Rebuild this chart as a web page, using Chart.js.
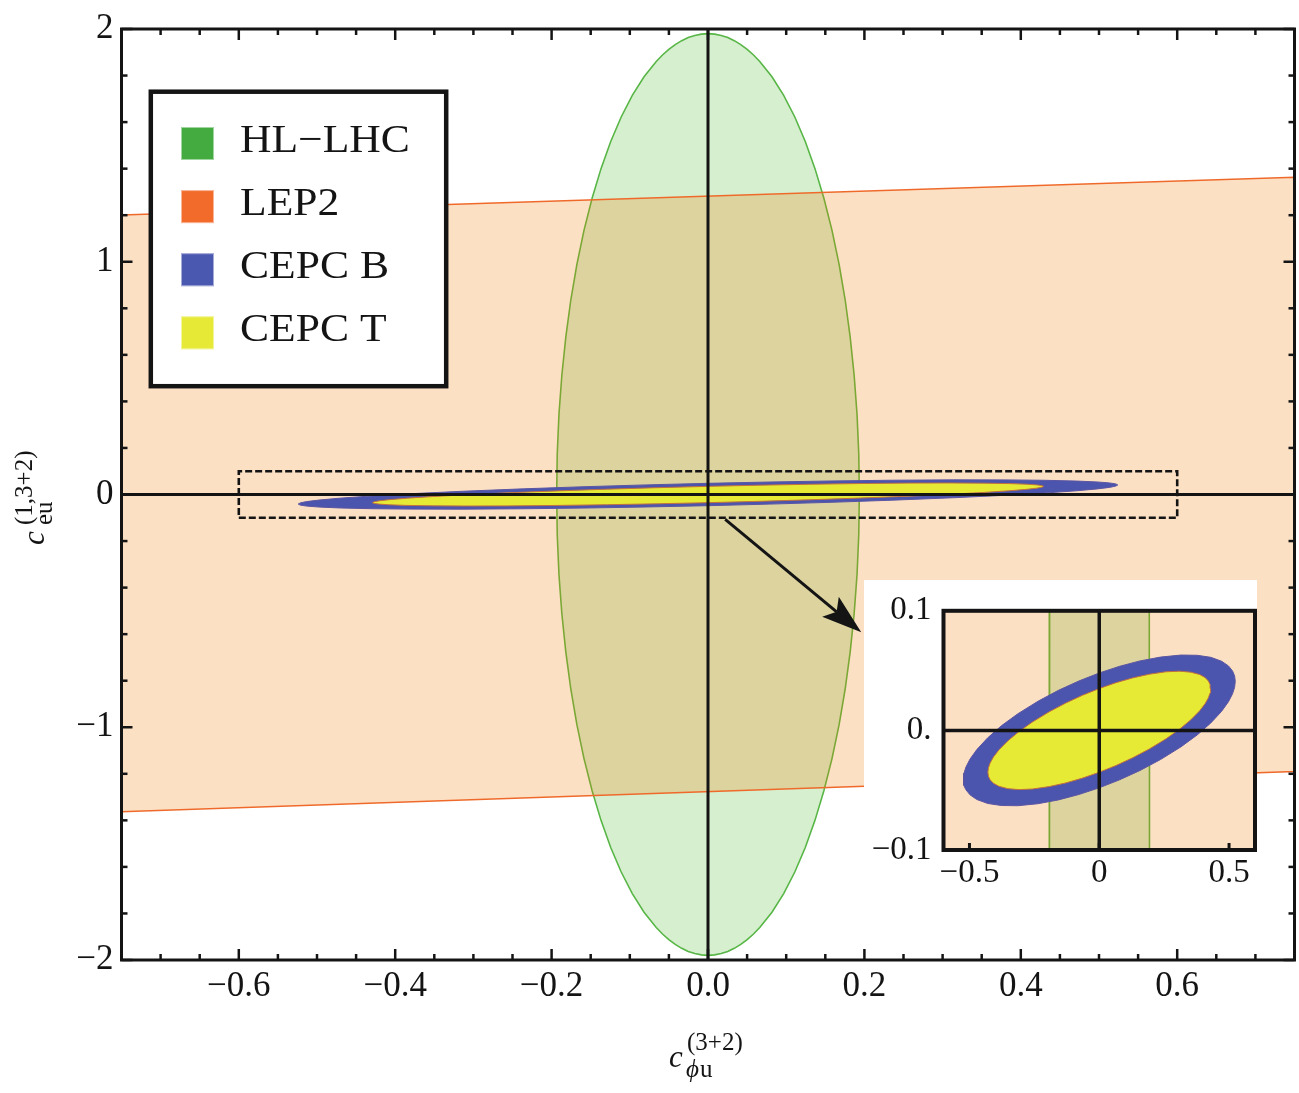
<!DOCTYPE html>
<html>
<head>
<meta charset="utf-8">
<script src="https://cdn.jsdelivr.net/npm/chart.js@4.4.1/dist/chart.umd.min.js"></script>
<style>
  html, body { margin: 0; padding: 0; background: #fff; }
  #wrap { position: relative; width: 1299px; height: 1093px; }
  #main { position: absolute; left: 0; top: 0; }
  #inset { position: absolute; left: 862px; top: 579px; }
</style>
</head>
<body>
<div id="wrap">
  <canvas id="main" width="1299" height="1093"></canvas>
  <canvas id="inset" width="395" height="311"></canvas>
</div>
<script>
// legend entries
const seriesNames = ["HL\u2212LHC", "LEP2", "CEPC B", "CEPC T"];
const seriesColors = ["#43ab3f", "#f26b2b", "#4b58b0", "#e6ea36"];

// HL-LHC contour
const hllhcX = [0.1935, 0.1928, 0.1906, 0.1869, 0.1818, 0.1754, 0.1676, 0.1585, 0.1482, 0.1368, 0.1244, 0.1110,
  0.0968, 0.0818, 0.0662, 0.0582, 0.0501, 0.0419, 0.0336, 0.0253, 0.0169, 0.0084, 0,
  -0.0084, -0.0169, -0.0253, -0.0336, -0.0419, -0.0501, -0.0582, -0.0662, -0.0818, -0.0968,
  -0.1110, -0.1244, -0.1368, -0.1482, -0.1585, -0.1676, -0.1754, -0.1818, -0.1869, -0.1906, -0.1928, -0.1935,
  -0.1928, -0.1906, -0.1869, -0.1818, -0.1754, -0.1676, -0.1585, -0.1482, -0.1368, -0.1244, -0.1110,
  -0.0968, -0.0818, -0.0662, -0.0582, -0.0501, -0.0419, -0.0336, -0.0253, -0.0169, -0.0084, 0,
  0.0084, 0.0169, 0.0253, 0.0336, 0.0419, 0.0501, 0.0582, 0.0662, 0.0818, 0.0968,
  0.1110, 0.1244, 0.1368, 0.1482, 0.1585, 0.1676, 0.1754, 0.1818, 0.1869, 0.1906, 0.1928, 0.1935];
const hllhcY = [0, 0.1726, 0.3438, 0.5124, 0.6772, 0.8367, 0.99, 1.1357, 1.2727, 1.4001, 1.5167, 1.622,
  1.7147, 1.7945, 1.8606, 1.8883, 1.9125, 1.9331, 1.9499, 1.963, 1.9725, 1.9781, 1.98,
  1.9781, 1.9725, 1.963, 1.9499, 1.9331, 1.9125, 1.8883, 1.8606, 1.7945, 1.7147,
  1.622, 1.5167, 1.4001, 1.2727, 1.1357, 0.99, 0.8367, 0.6772, 0.5124, 0.3438, 0.1726, 0,
  -0.1726, -0.3438, -0.5124, -0.6772, -0.8367, -0.99, -1.1357, -1.2727, -1.4001, -1.5167, -1.622,
  -1.7147, -1.7945, -1.8606, -1.8883, -1.9125, -1.9331, -1.9499, -1.963, -1.9725, -1.9781, -1.98,
  -1.9781, -1.9725, -1.963, -1.9499, -1.9331, -1.9125, -1.8883, -1.8606, -1.7945, -1.7147,
  -1.622, -1.5167, -1.4001, -1.2727, -1.1357, -0.99, -0.8367, -0.6772, -0.5124, -0.3438, -0.1726, 0];

// LEP2 band corners
const lep2X = [-0.75, 0.75, 0.75, -0.75, -0.75];
const lep2Y = [1.201, 1.363, -1.19, -1.363, 1.201];

// CEPC B contour
const cepcBX = [0.524, 0.5214, 0.5135, 0.4978, 0.4716, 0.4297, 0.3773, 0.3144, 0.2358, 0.1572, 0.0786, 0,
  -0.0786, -0.1572, -0.2358, -0.3144, -0.3773, -0.4297, -0.4716, -0.4978, -0.5135, -0.5214, -0.524,
  -0.5214, -0.5135, -0.4978, -0.4716, -0.4297, -0.3773, -0.3144, -0.2358, -0.1572, -0.0786, 0,
  0.0786, 0.1572, 0.2358, 0.3144, 0.3773, 0.4297, 0.4716, 0.4978, 0.5135, 0.5214, 0.524];
const cepcBY = [0.041, 0.0456, 0.0497, 0.0539, 0.0578, 0.0611, 0.0628, 0.063, 0.0613, 0.0581, 0.0536, 0.048,
  0.0413, 0.0335, 0.0244, 0.0138, 0.0038, -0.0062, -0.016, -0.024, -0.0306, -0.036, -0.041,
  -0.0456, -0.0497, -0.0539, -0.0578, -0.0611, -0.0628, -0.063, -0.0613, -0.0581, -0.0536, -0.048,
  -0.0413, -0.0335, -0.0244, -0.0138, -0.0038, 0.0062, 0.016, 0.024, 0.0306, 0.036, 0.041];

// CEPC T contour
const cepcTX = [0.429, 0.4269, 0.4204, 0.4076, 0.3861, 0.3518, 0.3089, 0.2574, 0.1931, 0.1287, 0.0644, 0,
  -0.0644, -0.1287, -0.1931, -0.2574, -0.3089, -0.3518, -0.3861, -0.4076, -0.4204, -0.4269, -0.429,
  -0.4269, -0.4204, -0.4076, -0.3861, -0.3518, -0.3089, -0.2574, -0.1931, -0.1287, -0.0644, 0,
  0.0644, 0.1287, 0.1931, 0.2574, 0.3089, 0.3518, 0.3861, 0.4076, 0.4204, 0.4269, 0.429];
const cepcTY = [0.035, 0.0383, 0.0413, 0.0442, 0.0468, 0.0487, 0.0495, 0.049, 0.047, 0.0439, 0.0399, 0.035,
  0.0294, 0.0229, 0.0155, 0.007, -0.0009, -0.0087, -0.0162, -0.0223, -0.0273, -0.0313, -0.035,
  -0.0383, -0.0413, -0.0442, -0.0468, -0.0487, -0.0495, -0.049, -0.047, -0.0439, -0.0399, -0.035,
  -0.0294, -0.0229, -0.0155, -0.007, 0.0009, 0.0087, 0.0162, 0.0223, 0.0273, 0.0313, 0.035];

// zoom window and arrow
const zoomX = [-0.6, 0.6, 0.6, -0.6, -0.6];
const zoomY = [-0.1, -0.1, 0.1, 0.1, -0.1];
const arrowX = [0.022, 0.196];
const arrowY = [-0.107, -0.592];

// ticks
const xTicks = [-0.6, -0.4, -0.2, 0, 0.2, 0.4, 0.6];
const xTickLabels = ["\u22120.6", "\u22120.4", "\u22120.2", "0.0", "0.2", "0.4", "0.6"];
const xMinor = [-0.7, -0.65, -0.55, -0.5, -0.45, -0.35, -0.3, -0.25, -0.15, -0.1, -0.05,
  0.05, 0.1, 0.15, 0.25, 0.3, 0.35, 0.45, 0.5, 0.55, 0.65, 0.7];
const yTicks = [-2, -1, 0, 1, 2];
const yTickLabels = ["\u22122", "\u22121", "0", "1", "2"];
const yMinor = [-1.8, -1.6, -1.4, -1.2, -0.8, -0.6, -0.4, -0.2, 0.2, 0.4, 0.6, 0.8, 1.2, 1.4, 1.6, 1.8];
const insetXTicks = [-0.5, 0, 0.5];
const insetXTickLabels = ["\u22120.5", "0", "0.5"];
const insetYTicks = [-0.1, 0, 0.1];
const insetYTickLabels = ["\u22120.1", "0.", "0.1"];

const SERIF = '"Liberation Serif", "Times New Roman", serif';
const INK = "#141414";

function pts(xs, ys) {
  return xs.map((x, i) => ({ x: x, y: ys[i] }));
}

function contours() {
  return [
    { label: seriesNames[0], data: pts(hllhcX, hllhcY), order: 5,
      backgroundColor: "#d6efcf", borderColor: "#58b646", borderWidth: 1.6 },
    { label: seriesNames[1], data: pts(lep2X, lep2Y), order: 4,
      backgroundColor: "rgba(242,120,0,0.23)", borderColor: "#ef6a2a", borderWidth: 1.5 },
    { label: seriesNames[2], data: pts(cepcBX, cepcBY), order: 3,
      backgroundColor: "#4b55ad", borderColor: "#5b55a3", borderWidth: 1 },
    { label: seriesNames[3], data: pts(cepcTX, cepcTY), order: 2,
      backgroundColor: "#e6ea35", borderColor: "#c2703e", borderWidth: 1 }
  ].map(d => Object.assign(d, { showLine: true, fill: "shape", pointRadius: 0, tension: 0 }));
}

function seg(ctx, x1, y1, x2, y2) {
  ctx.beginPath();
  ctx.moveTo(x1, y1);
  ctx.lineTo(x2, y2);
  ctx.stroke();
}

function scaleOpts(min, max, values, labels, size, pad, fit) {
  return {
    type: "linear", min: min, max: max,
    grid: { display: false, drawTicks: false }, border: { display: false },
    afterBuildTicks: s => { s.ticks = values.map(v => ({ value: v })); },
    afterFit: fit,
    ticks: {
      autoSkip: false, maxRotation: 0, padding: pad, color: INK,
      font: { family: SERIF, size: size },
      callback: (v, i) => labels[i]
    }
  };
}

// text stretched a little sideways, like the reference lettering
function wideText(ctx, txt, x, y, sx) {
  ctx.save();
  ctx.translate(x, y);
  ctx.scale(sx, 1);
  ctx.fillText(txt, 0, 0);
  ctx.restore();
}

// main plot decorations: zero lines, frame ticks, inset backdrop, arrow
const mainDecor = {
  id: "mainDecor",
  afterDatasetsDraw(chart) {
    const { ctx, chartArea: a, scales: { x, y } } = chart;
    ctx.save();
    ctx.strokeStyle = INK;
    ctx.lineWidth = 3;
    const x0 = x.getPixelForValue(0), y0 = y.getPixelForValue(0);
    seg(ctx, x0, a.top, x0, a.bottom);
    seg(ctx, a.left, y0, a.right, y0);

    ctx.lineWidth = 2.5;
    const mark = (vals, len, sc, horiz) => vals.forEach(v => {
      const p = sc.getPixelForValue(v);
      if (horiz) {
        seg(ctx, p, a.bottom, p, a.bottom - len);
        seg(ctx, p, a.top, p, a.top + len);
      } else {
        seg(ctx, a.left, p, a.left + len, p);
        seg(ctx, a.right, p, a.right - len, p);
      }
    });
    mark(xTicks, 11, x, true);
    mark(xMinor, 6, x, true);
    mark(yTicks, 11, y, false);
    mark(yMinor, 6, y, false);

    ctx.lineWidth = 3;
    ctx.strokeRect(a.left, a.top, a.right - a.left, a.bottom - a.top);

    // white backdrop behind the inset
    ctx.fillStyle = "#fff";
    ctx.fillRect(864, 580, 393, 309);

    // arrow
    const ax1 = x.getPixelForValue(arrowX[0]), ay1 = y.getPixelForValue(arrowY[0]);
    const ax2 = x.getPixelForValue(arrowX[1]), ay2 = y.getPixelForValue(arrowY[1]);
    const ang = Math.atan2(ay2 - ay1, ax2 - ax1);
    const hl = 40, hw = 13;
    const c = Math.cos(ang), s = Math.sin(ang);
    ctx.lineWidth = 3;
    seg(ctx, ax1, ay1, ax2 - c * hl * 0.8, ay2 - s * hl * 0.8);
    ctx.fillStyle = INK;
    ctx.beginPath();
    ctx.moveTo(ax2, ay2);
    ctx.lineTo(ax2 - c * hl + s * hw, ay2 - s * hl - c * hw);
    ctx.lineTo(ax2 - c * hl * 0.8, ay2 - s * hl * 0.8);
    ctx.lineTo(ax2 - c * hl - s * hw, ay2 - s * hl + c * hw);
    ctx.closePath();
    ctx.fill();
    ctx.restore();
  },
  afterDraw(chart) {
    const ctx = chart.ctx;
    ctx.save();
    // legend
    ctx.fillStyle = "#fff";
    ctx.fillRect(150.8, 91.7, 295.4, 294.5);
    ctx.strokeStyle = INK;
    ctx.lineWidth = 4.5;
    ctx.strokeRect(150.8, 91.7, 295.4, 294.5);
    seriesNames.forEach((name, i) => {
      const top = 127 + i * 63.1;
      ctx.fillStyle = seriesColors[i];
      ctx.fillRect(181, top, 33, 33);
      ctx.strokeStyle = "rgba(255,255,255,0.5)";
      ctx.lineWidth = 1;
      ctx.strokeRect(181.5, top + 0.5, 32, 32);
      ctx.fillStyle = INK;
      ctx.font = "40px " + SERIF;
      ctx.textAlign = "left";
      ctx.textBaseline = "alphabetic";
      wideText(ctx, name, 240, 152 + i * 63.1, 1.09);
    });

    // x axis title
    ctx.fillStyle = INK;
    ctx.font = "italic 31px " + SERIF;
    ctx.fillText("c", 669, 1067);
    ctx.font = "25px " + SERIF;
    ctx.fillText("(3+2)", 687, 1050);
    ctx.font = "italic 25px " + SERIF;
    ctx.fillText("\u03d5", 686, 1077);
    const pw = ctx.measureText("\u03d5").width;
    ctx.font = "25px " + SERIF;
    ctx.fillText("u", 686 + pw + 1, 1077);

    // y axis title
    ctx.translate(43.5, 545);
    ctx.rotate(-Math.PI / 2);
    ctx.font = "italic 31px " + SERIF;
    ctx.fillText("c", 0, 0);
    ctx.font = "25px " + SERIF;
    ctx.fillText("eu", 20, 8);
    ctx.fillText("(1,3+2)", 20, -12);
    ctx.restore();
  }
};

const mainData = contours();
mainData.push({
  label: "zoom", data: pts(zoomX, zoomY), order: 1, showLine: true, fill: false,
  pointRadius: 0, borderColor: INK, borderWidth: 2.6, borderDash: [7, 3]
});

new Chart(document.getElementById("main"), {
  type: "scatter",
  data: { datasets: mainData },
  options: {
    responsive: false, animation: false, events: [], devicePixelRatio: 1,
    layout: { padding: { top: 24, right: 4.5, left: 0, bottom: 0 } },
    plugins: { legend: { display: false }, tooltip: { enabled: false } },
    scales: {
      x: scaleOpts(-0.75, 0.75, xTicks, xTickLabels, 35, 6, s => { s.height = 133; }),
      y: scaleOpts(-2, 2, yTicks, yTickLabels, 35, 8, s => { s.width = 121.5; })
    }
  },
  plugins: [mainDecor]
});

// inset decorations
const insetDecor = {
  id: "insetDecor",
  afterDatasetsDraw(chart) {
    const { ctx, chartArea: a, scales: { x, y } } = chart;
    ctx.save();
    ctx.strokeStyle = INK;
    ctx.lineWidth = 3.5;
    const x0 = x.getPixelForValue(0), y0 = y.getPixelForValue(0);
    seg(ctx, x0, a.top, x0, a.bottom);
    seg(ctx, a.left, y0, a.right, y0);
    ctx.lineWidth = 3;
    insetXTicks.forEach(v => {
      const p = x.getPixelForValue(v);
      seg(ctx, p, a.bottom, p, a.bottom - 7);
    });
    ctx.lineWidth = 4;
    ctx.strokeRect(a.left, a.top, a.right - a.left, a.bottom - a.top);
    ctx.restore();
  }
};

new Chart(document.getElementById("inset"), {
  type: "scatter",
  data: { datasets: contours() },
  options: {
    responsive: false, animation: false, events: [], devicePixelRatio: 1,
    layout: { padding: { top: 24.3, right: 2, left: 0, bottom: 0 } },
    plugins: { legend: { display: false }, tooltip: { enabled: false } },
    scales: {
      x: scaleOpts(-0.6, 0.6, insetXTicks, insetXTickLabels, 33, 4, s => { s.height = 40; }),
      y: scaleOpts(-0.1, 0.1, insetYTicks, insetYTickLabels, 33, 12, s => { s.width = 81.5; })
    }
  },
  plugins: [insetDecor]
});
</script>
</body>
</html>
